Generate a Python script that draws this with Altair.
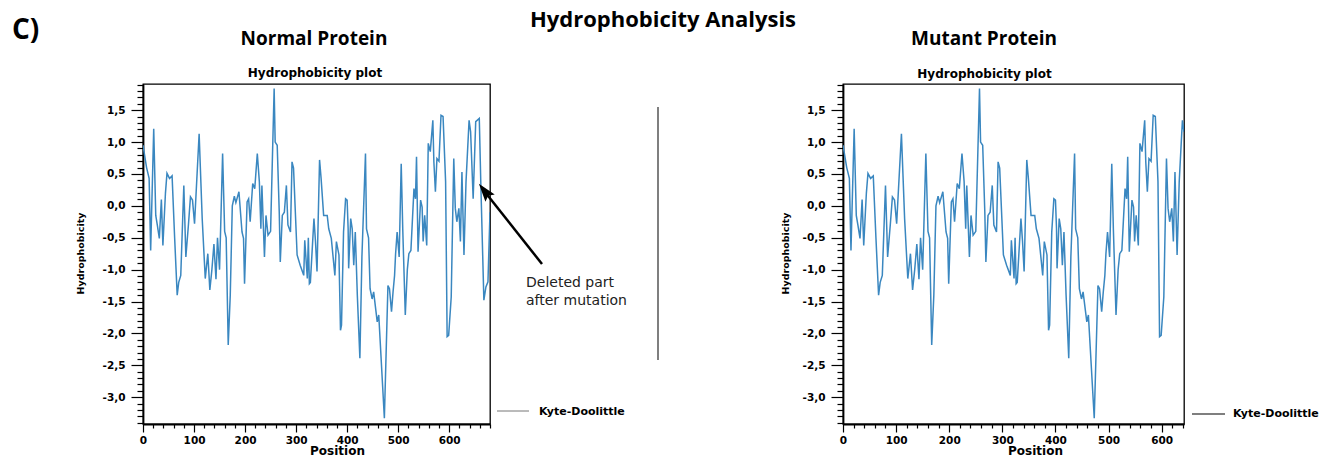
import altair as alt
import pandas as pd

# ---- data (Kyte-Doolittle profile) ----
positions = [0, 7, 12, 15, 21, 25, 28, 32, 36, 39, 44, 47, 52, 57, 62, 67, 70, 74, 80, 84,
             89, 93, 97, 101, 110, 116, 122, 127, 131, 135, 139, 143, 146, 150, 156, 160, 163, 167, 171, 175,
             179, 182, 188, 194, 197, 199, 204, 207, 210, 215, 219, 224, 228, 231, 233, 238, 241, 245, 250, 257,
             259, 263, 267, 269, 273, 277, 281, 284, 289, 292, 295, 302, 308, 315, 317, 322, 324, 326, 328, 335,
             338, 341, 346, 349, 354, 361, 364, 369, 376, 379, 384, 387, 389, 393, 397, 400, 402, 403, 407, 410,
             413, 416, 420, 425, 429, 436, 438, 442, 445, 449, 452, 459, 462, 473, 480, 483, 487, 490, 493, 495,
             498, 502, 506, 509, 514, 518, 521, 525, 531, 534, 536, 539, 544, 547, 549, 552, 556, 559, 563, 568,
             570, 573, 576, 580, 584, 588, 593, 596, 599, 604, 609, 612, 615, 619, 622, 625, 629, 633, 639, 642,
             647, 652, 659, 662, 668, 672, 676, 680]
hydro = [0.95, 0.60, 0.43, -0.70, 1.21, -0.15, -0.30, -0.51, 0.10, -0.62, 0.20, 0.51, 0.43, 0.47, -0.50, -1.40, -1.20, -1.09, 0.32, -0.80,
         -0.30, 0.14, 0.09, -0.28, 1.13, -0.20, -1.14, -0.75, -1.32, -1.00, -0.60, -1.15, -0.50, -1.00, 0.82, -0.40, -0.50, -2.18, -1.40, 0.00,
         0.15, 0.05, 0.22, -0.41, -0.51, -1.22, 0.06, 0.11, -0.25, 0.35, 0.27, 0.82, 0.38, -0.36, 0.32, -0.80, -0.15, -0.46, -0.40, 1.84,
         1.00, 0.95, -0.10, -0.88, -0.15, -0.10, 0.32, -0.30, -0.41, 0.69, 0.59, -0.77, -0.93, -1.09, -0.54, -1.14, -0.50, -1.22, -1.20, -0.20,
         -0.56, -1.03, 0.72, 0.43, -0.15, -0.15, -0.36, -0.51, -1.09, -0.56, -0.77, -1.95, -1.87, -0.41, 0.11, 0.09, -0.36, -0.98, -0.20, -0.36,
         -0.93, -0.41, -1.40, -2.39, -0.80, 0.82, -0.36, -0.50, -1.30, -1.46, -1.35, -1.82, -1.71, -3.33, -1.25, -1.30, -1.66, -1.35, -1.09, -0.75,
         -0.41, -0.80, 0.66, -0.36, -1.71, -1.00, -0.75, -0.70, 0.27, 0.11, 0.77, -0.72, 0.09, -0.02, -0.56, -0.15, -0.62, 0.98, 0.85, 1.34,
         0.69, 0.22, 0.74, 0.70, 1.42, 1.40, 0.38, -2.05, -2.03, -1.43, 0.74, -0.04, -0.25, -0.04, -0.56, 0.53, -0.77, 0.38, 1.34, 1.16,
         0.11, 1.32, 1.37, 0.35, -1.48, -1.27, -1.19, -0.10]
normal_length = 680
mutant_length = 642

y_domain = [-3.42, 1.91]

normal_df = pd.DataFrame({"Position": positions, "Hydrophobicity": hydro})
mutant_df = normal_df[normal_df["Position"] <= mutant_length]

# tick positions: every 20 on x (labels every 100), every 0.1 on y (labels every 0.5)
x_ticks = [v for v in range(0, 700, 20)]
y_ticks = [round(-3.4 + 0.1 * i, 1) for i in range(54)]

LINE = "#3a87c0"
TFONT = "Open Sans"
AFONT = "DejaVu Sans"
is_major_y = "abs(datum.value * 2 - round(datum.value * 2)) < 0.001"
is_major_x = "datum.value % 100 == 0"
y_label_expr = (is_major_y + " ? replace(replace(format(datum.value, '.1f'), '.', ','), '\u2212', '-') : ''")
x_label_expr = is_major_x + " ? datum.label : ''"


def one():
    return alt.Chart(pd.DataFrame({"k": [0]}))


def txt(s, x, y, size, font=AFONT, weight="bold", align="center", **kw):
    return one().mark_text(text=s, font=font, fontSize=size, fontWeight=weight, align=align,
                           baseline="alphabetic", color="black", **kw).encode(
        x=alt.value(x), y=alt.value(y))


def panel(df, xmax, width, height, ytitle_x, xtitle_x, extras):
    xs = alt.Scale(domain=[0, xmax], nice=False, zero=False)
    ys = alt.Scale(domain=y_domain, nice=False, zero=False)
    line = alt.Chart(df).mark_line(color=LINE, strokeWidth=1.5, clip=True).encode(
        x=alt.X("Position:Q", scale=xs,
                axis=alt.Axis(values=[v for v in x_ticks if v <= xmax], tickSize=8, labelPadding=3,
                              labelExpr=x_label_expr, title="Position",
                              titleX=xtitle_x, titleY=26, titleBaseline="middle", titleAlign="center",
                              titleFontSize=12, orient="bottom",
                              tickDash={"condition": {"test": is_major_x, "value": [20, 1]},
                                        "value": [4, 30]})),
        y=alt.Y("Hydrophobicity:Q", scale=ys,
                axis=alt.Axis(values=y_ticks, tickSize=12, labelPadding=6, labelExpr=y_label_expr,
                              title="Hydrophobicity", titleX=ytitle_x, titleY=169, titleAngle=270,
                              titleBaseline="middle", titleAlign="center", titleFontSize=9.5,
                              orient="left",
                              tickDash={"condition": {"test": is_major_y, "value": [20, 1]},
                                        "value": [6, 30]})),
    )
    return alt.layer(line, *extras).properties(width=width, height=height)


# annotations of the left panel (pixel offsets from its plot origin)
left_extras = [
    one().mark_rule(color="white", strokeWidth=1).encode(
        x=alt.value(-141), x2=alt.value(-140), y=alt.value(-82), y2=alt.value(-82)),
    txt("C)", -131, -45, 28, font=TFONT, align="left"),
    txt("Hydrophobicity Analysis", 520, -57, 22, font=TFONT),
    txt("Normal Protein", 171, -39, 19, font=TFONT),
    txt("Hydrophobicity plot", 172, -7, 12),
    one().mark_rule(color="#555555", strokeWidth=1.5).encode(
        x=alt.value(515), x2=alt.value(515), y=alt.value(23), y2=alt.value(276)),
    one().mark_rule(color="black", strokeWidth=2.5).encode(
        x=alt.value(399), x2=alt.value(342), y=alt.value(180), y2=alt.value(108)),
    one().mark_point(shape="M0,-1L0.65,1L0,0.65L-0.65,1Z", filled=True, size=330, angle=322,
                     color="black", opacity=1).encode(x=alt.value(341.5), y=alt.value(107)),
    one().mark_text(text=["Deleted part", "after mutation"], font=AFONT, fontSize=14,
                    align="left", baseline="alphabetic", lineHeight=18, color="#222222").encode(
        x=alt.value(383), y=alt.value(203)),
    one().mark_rule(color="#777777", strokeWidth=1).encode(
        x=alt.value(354), x2=alt.value(386), y=alt.value(327), y2=alt.value(327)),
    one().mark_text(text="Kyte-Doolittle", font=AFONT, fontSize=11, fontWeight="bold",
                    align="left", baseline="middle", color="black").encode(
        x=alt.value(396), y=alt.value(328)),
]

right_extras = [
    txt("Mutant Protein", 141, -39, 19, font=TFONT),
    txt("Hydrophobicity plot", 141.5, -6, 12),
    one().mark_rule(color="black", strokeWidth=1.2).encode(
        x=alt.value(349), x2=alt.value(382), y=alt.value(330), y2=alt.value(330)),
    one().mark_text(text="Kyte-Doolittle", font=AFONT, fontSize=11, fontWeight="bold",
                    align="left", baseline="middle", color="black").encode(
        x=alt.value(390), y=alt.value(330)),
]

left = panel(normal_df, normal_length, 347, 340, -63, 194, left_extras)
right = panel(mutant_df, mutant_length, 341, 340, -58, 192, right_extras)

chart = alt.HConcatChart(hconcat=[left, right], spacing=353, bounds="flush").properties(
    padding=0, background="white"
).configure_view(stroke="black", strokeWidth=1.3).configure_axis(
    labelFont=AFONT, labelFontWeight="bold", labelFontSize=10.5, labelColor="black",
    titleFont=AFONT, titleFontWeight="bold", titleColor="black",
    tickColor="black", tickWidth=1.2, domainColor="black", domainWidth=1.8, grid=False,
    labelFlush=False, labelOverlap=False,
)

chart.save("out.html", embed_options={"renderer": "svg", "actions": False})
